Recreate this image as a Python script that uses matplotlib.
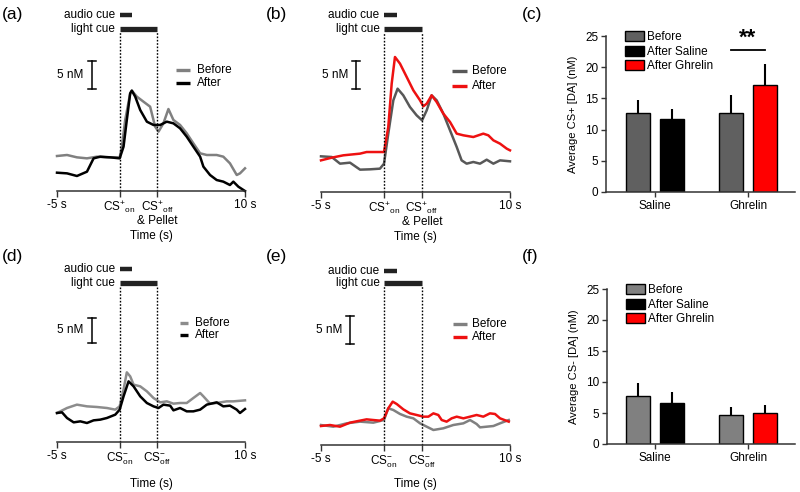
import matplotlib.pyplot as plt
from matplotlib.patches import Patch

plt.rcParams['font.family'] = ['Liberation Sans', 'DejaVu Sans']
plt.rcParams['mathtext.fontset'] = 'custom'
plt.rcParams['mathtext.rm'] = 'Liberation Sans'
plt.rcParams['mathtext.default'] = 'regular'

W, H = 800, 492

# ---- trace data: time (s), [DA] above baseline (nM) ----
a_t_before = [-5.0, -4.2, -3.41, -2.61, -1.81, -1.02, 0.0, 0.18, 0.44, 0.84, 0.97, 1.37, 1.9, 2.43,
              2.83, 3.1, 3.49, 3.89, 4.29, 4.82, 5.35, 5.88, 6.42, 6.95, 7.74, 8.27, 8.8, 9.34, 9.6, 10.0]
a_before = [6.25, 6.43, 6.01, 5.83, 6.13, 6.01, 6.01, 7.92, 12.68, 17.44, 17.92, 16.85, 15.95, 15.06,
            11.49, 10.6, 12.08, 14.64, 12.68, 11.79, 10.3, 8.51, 6.73, 6.43, 6.43, 6.13, 4.94, 2.86, 3.15, 4.05]
a_t_after = [-5.0, -4.2, -3.41, -2.61, -2.08, -1.55, -0.75, 0.0, 0.31, 0.57, 0.84, 0.97, 1.24, 1.64,
             2.17, 2.7, 3.23, 3.76, 4.29, 4.82, 5.35, 5.88, 6.42, 6.68, 7.21, 7.74, 8.27, 8.8, 9.07, 9.47, 10.0]
a_after = [3.27, 3.15, 2.68, 3.45, 5.83, 6.13, 6.01, 5.83, 7.92, 12.68, 17.44, 17.92, 16.85, 14.46,
           12.38, 11.79, 11.79, 12.38, 12.08, 11.19, 9.7, 7.92, 6.13, 4.35, 2.86, 1.96, 1.67, 1.07, 1.67, 0.77, 0.0]

b_t_before = [-5.0, -4.15, -3.49, -2.7, -1.9, -1.11, -0.32, 0.0, 0.34, 0.74, 1.08, 1.53, 2.06, 2.59, 3.02,
              3.39, 3.78, 4.18, 4.71, 5.24, 5.77, 6.16, 6.56, 7.09, 7.62, 8.15, 8.68, 9.21, 10.0]
b_before = [6.37, 6.25, 5.06, 5.24, 3.99, 4.05, 4.17, 5.06, 10.42, 16.37, 18.45, 17.26, 15.18, 13.69, 12.8,
            14.58, 17.26, 16.37, 13.99, 11.01, 8.04, 5.65, 5.06, 5.36, 5.06, 5.77, 5.06, 5.65, 5.48]
b_t_after = [-5.0, -4.15, -3.23, -1.9, -1.38, 0.0, 0.34, 0.61, 0.87, 1.27, 1.8, 2.33, 2.86, 3.12, 3.39,
             3.78, 4.18, 4.71, 5.24, 5.77, 6.3, 7.09, 7.88, 8.28, 8.68, 9.21, 9.74, 10.0]
b_after = [5.65, 6.13, 6.55, 6.85, 7.14, 7.14, 11.61, 19.35, 24.11, 22.92, 20.54, 18.15, 16.37, 15.3, 15.77,
           17.26, 16.07, 13.99, 12.5, 10.42, 10.12, 9.82, 10.42, 10.12, 9.23, 8.63, 7.74, 7.44]

d_t_before = [-5.0, -4.2, -3.41, -2.61, -1.81, -1.02, -0.35, 0.0, 0.31, 0.57, 0.84, 1.11, 1.64, 2.17, 2.7,
              3.23, 3.76, 4.29, 4.82, 5.35, 5.88, 6.42, 6.68, 7.21, 7.74, 8.54, 9.07, 10.0]
d_before = [5.8, 6.8, 7.47, 7.13, 7.0, 6.8, 6.47, 7.13, 10.47, 13.93, 13.13, 11.47, 11.13, 10.13, 8.8,
            7.93, 8.13, 7.67, 7.8, 7.8, 8.8, 9.8, 9.13, 7.67, 7.8, 8.13, 8.13, 8.33]
d_t_after = [-5.0, -4.6, -4.2, -3.67, -3.14, -2.61, -2.08, -1.55, -1.02, -0.35, 0.0, 0.31, 0.71, 1.11, 1.64,
             2.17, 2.7, 3.1, 3.49, 4.03, 4.29, 4.82, 5.35, 5.88, 6.42, 6.95, 7.74, 8.27, 8.8, 9.34, 9.6, 10.0]
d_after = [5.8, 5.93, 4.8, 3.93, 4.13, 3.8, 4.33, 4.47, 4.8, 5.47, 6.47, 9.13, 12.13, 11.13, 9.13,
           7.8, 7.13, 6.8, 7.47, 7.27, 6.33, 6.8, 6.13, 6.13, 6.47, 7.47, 7.93, 7.13, 7.27, 6.47, 5.8, 6.6]

e_t_before = [-5.0, -4.02, -2.96, -1.9, -0.85, 0.0, 0.34, 0.74, 1.27, 1.8, 2.33, 2.86, 3.39, 3.92, 4.71,
              5.5, 6.3, 6.83, 7.35, 7.62, 8.15, 8.68, 9.21, 9.9]
e_before = [3.57, 3.27, 3.87, 4.17, 3.99, 4.46, 6.55, 6.25, 5.54, 5.06, 4.76, 3.87, 3.27, 2.68, 2.98,
            3.57, 3.87, 4.46, 3.75, 3.15, 3.27, 3.39, 3.87, 4.46]
e_t_after = [-5.0, -4.29, -3.49, -2.7, -1.9, -1.38, -0.85, -0.32, 0.0, 0.34, 0.69, 1.01, 1.53, 2.06, 2.59,
             3.12, 3.52, 3.92, 4.31, 4.58, 4.97, 5.37, 5.77, 6.3, 6.83, 7.35, 7.88, 8.41, 8.81, 9.21, 9.9]
e_after = [3.39, 3.57, 3.27, 3.99, 4.35, 4.58, 4.46, 4.35, 4.76, 6.55, 7.74, 7.32, 6.37, 5.65, 5.36,
           5.06, 5.06, 5.65, 5.36, 4.46, 4.17, 4.76, 5.06, 4.76, 5.06, 5.36, 5.06, 5.65, 5.54, 4.76, 4.17]

# ---- bar data ----
groups = ['Saline', 'Ghrelin']
c_before = [12.6, 12.7]
c_before_err = [2.1, 2.8]
c_after = [11.7, 17.2]
c_after_err = [1.6, 3.3]
f_before = [7.8, 4.6]
f_before_err = [2.0, 1.3]
f_after = [6.6, 5.0]
f_after_err = [1.8, 1.35]

fig = plt.figure(figsize=(W / 100, H / 100), dpi=100)


def px_axes(left, right, bottom, top):
    return fig.add_axes([left / W, 1 - bottom / H, (right - left) / W, (bottom - top) / H])


def trace_panel(box, ppn, cues, scale, legend, before, after, colors, xlabels, plabel, label_px):
    left, right, bottom, top = box
    ax = px_axes(left, right, bottom, top)
    ax.set_xlim(-5, 10)
    ax.set_ylim(0, (bottom - top) / ppn)
    yv = lambda ypx: (bottom - ypx) / ppn
    tx = lambda xpx: (xpx - left) / (right - left) * 15 - 5

    ax.plot(before[0], before[1], color=colors[0], lw=1.8, clip_on=False)
    ax.plot(after[0], after[1], color=colors[1], lw=1.8, clip_on=False)

    # cue bars + dotted lines
    audio_y, light_y = cues
    ax.plot([0, 1], [yv(audio_y)] * 2, color='#222222', lw=3.2, solid_capstyle='butt', clip_on=False)
    ax.plot([0, 3], [yv(light_y)] * 2, color='#222222', lw=3.8, solid_capstyle='butt', clip_on=False)
    ax.text(-0.35, yv(audio_y), 'audio cue', ha='right', va='center', fontsize=8.5)
    ax.text(-0.35, yv(light_y), 'light cue', ha='right', va='center', fontsize=8.5)
    for x0 in (0, 3):
        ax.plot([x0, x0], [0, yv(light_y + 3)], color='black', lw=1, ls=(0, (1.2, 1.2)), clip_on=False)

    # scale bar
    sx, sy0, sy1, txt_x = scale
    xb = tx(sx)
    ax.plot([xb, xb], [yv(sy0), yv(sy1)], color='black', lw=1.1)
    for yy in (sy0, sy1):
        ax.plot([xb - 0.3, xb + 0.3], [yv(yy)] * 2, color='black', lw=1.1)
    ax.text(tx(txt_x), yv((sy0 + sy1) / 2), '5 nM', ha='right', va='center', fontsize=8.5)

    # legend
    lx0, lx1, ly0, ly1, ltx = legend
    for yy, c, lab in ((ly0, colors[0], 'Before'), (ly1, colors[1], 'After')):
        ax.plot([tx(lx0), tx(lx1)], [yv(yy)] * 2, color=c, lw=2.4, solid_capstyle='butt')
        ax.text(tx(ltx), yv(yy), lab, ha='left', va='center', fontsize=8.5)

    for s in ('top', 'right', 'left'):
        ax.spines[s].set_visible(False)
    ax.spines['bottom'].set_linewidth(1.1)
    ax.spines['bottom'].set_color('#333333')
    ax.set_yticks([])
    ax.set_xticks([-5, 0, 3, 10])
    ax.set_xticklabels(xlabels, fontsize=8.5, va='top', linespacing=0.95)
    ax.tick_params(axis='x', length=4, width=1, color='#333333', pad=2)
    ax.set_xlabel('Time (s)', fontsize=8.5)
    ax.xaxis.set_label_coords(0.5, -(label_px - bottom) / (bottom - top))
    fig.text(plabel[0] / W, 1 - plabel[1] / H, plabel[2], fontsize=12.5, ha='left', va='center')
    return ax


plus_labels = ['-5 s', r'CS$^{+}$$_{on}$', 'CS$^{+}$$_{off}$\n& Pellet', '10 s']
minus_labels = ['-5 s', r'CS$^{-}_{on}$', r'CS$^{-}_{off}$', '10 s']

trace_panel((57, 245, 191, 8), 5.6, (15, 29), (92, 61, 89, 83),
            (176, 190, 70, 83, 197), (a_t_before, a_before), (a_t_after, a_after),
            ('#808080', 'black'), plus_labels, (2, 14, '(a)'), 230)
trace_panel((321, 510, 192, 8), 5.6, (15, 29), (356, 61, 89, 348),
            (452, 467, 71, 86, 472), (b_t_before, b_before), (b_t_after, b_after),
            ('#585858', '#ee1111'), plus_labels, (266, 14, '(b)'), 231)
trace_panel((57, 245, 442, 258), 5.0, (269, 283), (92, 318, 343, 83),
            (180, 188, 323, 335, 195), (d_t_before, d_before), (d_t_after, d_after),
            ('#8c8c8c', 'black'), minus_labels, (2, 256, '(d)'), 478)
trace_panel((321, 510, 445, 258), 5.6, (271, 283), (350, 316, 344, 342),
            (453, 467, 324, 337, 472), (e_t_before, e_before), (e_t_after, e_after),
            ('#808080', '#ee1111'), minus_labels, (266, 256, '(e)'), 478)


def bar_panel(box, before, before_err, after, after_err, before_color, ylabel, plabel, sig=False):
    left, right, bottom, top = box
    ax = px_axes(left, right, bottom, top)
    ppu = 93.0
    ax.set_xlim((left - 655) / ppu, (right - 655) / ppu)
    ax.set_ylim(0, 25)
    w = 24 / ppu
    off = 17 / ppu
    x = list(range(len(groups)))
    after_colors = ['black', '#ff0000']
    ax.bar([i - off for i in x], before, width=w, color=before_color, edgecolor='black', lw=1,
           yerr=[[0] * len(before), before_err], error_kw=dict(lw=1.5, capsize=0, ecolor='black'), zorder=2)
    ax.bar([i + off for i in x], after, width=w, color=after_colors, edgecolor='black', lw=1,
           yerr=[[0] * len(after), after_err], error_kw=dict(lw=1.5, capsize=0, ecolor='black'), zorder=2)
    ax.set_xticks(x)
    ax.set_xticklabels(groups, fontsize=8.5)
    ax.set_yticks(range(0, 26, 5))
    ax.tick_params(axis='both', labelsize=8.5, length=3.5, width=1, color='#333333', pad=2)
    for s in ('top', 'right'):
        ax.spines[s].set_visible(False)
    for s in ('left', 'bottom'):
        ax.spines[s].set_linewidth(1.1)
        ax.spines[s].set_color('#333333')
    ax.set_ylabel(ylabel, fontsize=8, labelpad=5)
    handles = [Patch(facecolor=before_color, edgecolor='black', label='Before'),
               Patch(facecolor='black', edgecolor='black', label='After Saline'),
               Patch(facecolor='#ff0000', edgecolor='black', label='After Ghrelin')]
    ax.legend(handles=handles, loc='upper left', bbox_to_anchor=(0.1, 1.03), frameon=False, fontsize=8.5,
              handlelength=1.6, handleheight=0.9, handletextpad=0.3, labelspacing=0.2, borderpad=0,
              borderaxespad=0)
    if sig:
        ax.plot([1 - off, 1 + off], [22.75, 22.75], color='black', lw=1.3)
        ax.text(1, 22.9, '**', ha='center', va='bottom', fontsize=16, fontweight='bold')
    fig.text(plabel[0] / W, 1 - plabel[1] / H, plabel[2], fontsize=12.5, ha='left', va='center')
    return ax


bar_panel((606, 795, 192, 36), c_before, c_before_err, c_after, c_after_err, '#606060',
          'Average CS+ [DA] (nM)', (522, 14, '(c)'), sig=True)
bar_panel((607, 795, 444, 289), f_before, f_before_err, f_after, f_after_err, '#808080',
          'Average CS- [DA] (nM)', (522, 256, '(f)'))

fig.savefig('out.png', dpi=100)
